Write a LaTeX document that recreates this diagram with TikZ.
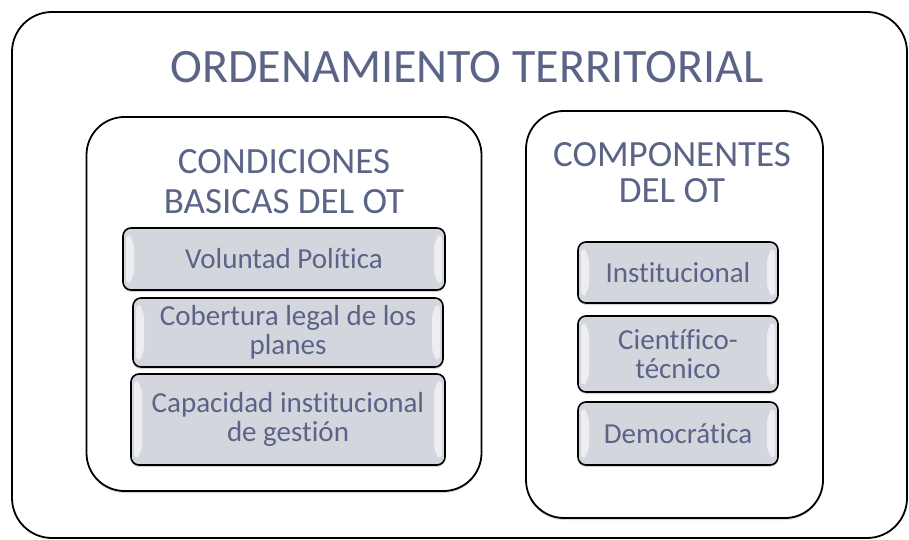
\documentclass[tikz,border=0pt]{standalone}
\usepackage{fontspec}
\setmainfont[Ligatures=NoCommon]{Carlito}
\usetikzlibrary{shadows,calc}
\definecolor{txt}{RGB}{90,100,135}
\definecolor{chipgray}{RGB}{212,214,222}
\tikzset{
  bigbox/.style={draw=black, line width=1.8pt, rounded corners=40pt, fill=white, inner sep=0pt},
  panel/.style={draw=black, line width=1.8pt, rounded corners=38pt, fill=white, inner sep=0pt,
    drop shadow={shadow xshift=0pt, shadow yshift=-2pt, opacity=0.3}},
  chip/.style={draw=black, line width=1.6pt, rounded corners=8pt, fill=chipgray, inner sep=0pt,
    align=center, text=txt, font=\fontsize{29}{29.5}\selectfont,
    drop shadow={shadow xshift=0pt, shadow yshift=-2pt, opacity=0.3},
    path picture={
      \fill[white, opacity=0.6]
        ($(path picture bounding box.north west)+(3pt,-4pt)$) --
        ($(path picture bounding box.north west)+(11pt,-12pt)$) --
        ($(path picture bounding box.south west)+(11pt,12pt)$) --
        ($(path picture bounding box.south west)+(3pt,4pt)$) -- cycle;
      \fill[white, opacity=0.6]
        ($(path picture bounding box.north east)+(-3pt,-4pt)$) --
        ($(path picture bounding box.north east)+(-11pt,-12pt)$) --
        ($(path picture bounding box.south east)+(-11pt,12pt)$) --
        ($(path picture bounding box.south east)+(-3pt,4pt)$) -- cycle;
    }},
  titletext/.style={text=txt, inner sep=0pt, anchor=base, font=\fontsize{48}{50}\selectfont},
  subtext/.style={text=txt, inner sep=0pt, anchor=base, font=\fontsize{37}{40}\selectfont},
}
\begin{document}
\begin{tikzpicture}[x=1pt,y=-1pt]
\useasboundingbox (0,0) rectangle (909,540);
% outer container
\node[bigbox, minimum width=895pt, minimum height=526pt] (outer) at (459.5,275) {};
\node[titletext] (title) at (467,83) {ORDENAMIENTO TERRITORIAL};
% left panel
\node[panel, minimum width=395pt, minimum height=374pt] (left) at (284,304) {};
\node[subtext] (lt1) at (284,173) {CONDICIONES};
\node[subtext] (lt2) at (284,213) {BASICAS DEL OT};
\node[chip, minimum width=322pt, minimum height=62pt] (c1) at (284,259) {Voluntad Política};
\node[chip, minimum width=310pt, minimum height=69pt] (c2) at (288,332.5) {Cobertura legal de los\\planes};
\node[chip, minimum width=314pt, minimum height=91pt] (c3) at (288,419.5) {Capacidad institucional\\de gestión};
% right panel
\node[panel, minimum width=297pt, minimum height=407pt] (right) at (674.5,314.5) {};
\node[subtext] (rt1) at (672,167) {COMPONENTES};
\node[subtext] (rt2) at (672,202) {DEL OT};
\node[chip, minimum width=200pt, minimum height=61pt] (d1) at (678,272.5) {Institucional};
\node[chip, minimum width=200pt, minimum height=76pt] (d2) at (678,354) {Científico-\\técnico};
\node[chip, minimum width=200pt, minimum height=63pt] (d3) at (678,433.5) {Democrática};
\end{tikzpicture}
\end{document}
